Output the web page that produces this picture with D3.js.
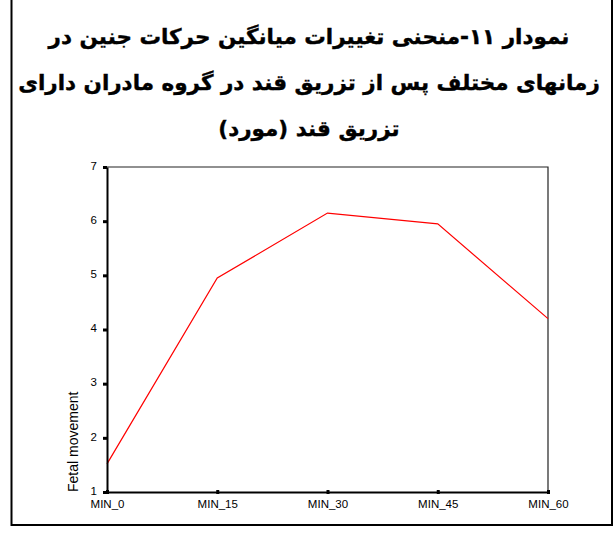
<!DOCTYPE html>
<html>
<head>
<meta charset="utf-8">
<script src="https://cdn.jsdelivr.net/npm/d3@7"></script>
<style>
  body { margin: 0; background: #fff; }
  svg { display: block; }
</style>
</head>
<body>
<svg id="chart" width="614" height="533"></svg>
<script>
var titleLines = [
  'نمودار ١١-منحنی تغییرات میانگین حرکات جنین در',
  'زمانهای مختلف پس از تزریق قند در گروه مادران دارای',
  'تزریق قند (مورد)'
];
var categories = ['MIN_0', 'MIN_15', 'MIN_30', 'MIN_45', 'MIN_60'];
var values = [1.52, 4.95, 6.15, 5.95, 4.2];
var yTicks = [1, 2, 3, 4, 5, 6, 7];
var yLabel = 'Fetal movement';

var svg = d3.select('#chart');

// outer frame (top edge is cut off in the original)
svg.append('path')
  .attr('d', 'M11.5,-2 V525 H612 V-2')
  .attr('fill', 'none')
  .attr('stroke', '#000')
  .attr('stroke-width', 2);

svg.selectAll('.title')
  .data(titleLines)
  .enter().append('text')
  .attr('class', 'title')
  .attr('x', 309)
  .attr('y', function(d, i) { return 44 + i * 46; })
  .attr('text-anchor', 'middle')
  .attr('direction', 'rtl')
  .style('font-family', 'DejaVu Sans, sans-serif')
  .style('font-weight', 'bold')
  .style('font-size', '21.5px')
  .attr('stroke', '#000')
  .attr('stroke-width', 0.4)
  .text(function(d) { return d; });

var margin = { left: 107, top: 167, right: 548, bottom: 492 };

var x = d3.scalePoint().domain(categories).range([margin.left, margin.right]);
var y = d3.scaleLinear().domain([1, 7]).range([margin.bottom, margin.top]);

// top and right borders of plot
svg.append('path')
  .attr('d', 'M' + margin.left + ',' + margin.top + ' H' + margin.right + ' V' + margin.bottom)
  .attr('fill', 'none')
  .attr('stroke', '#222')
  .attr('stroke-width', 1.2);

var line = d3.line()
  .x(function(d, i) { return x(categories[i]); })
  .y(function(d) { return y(d); });

svg.append('path')
  .datum(values)
  .attr('fill', 'none')
  .attr('stroke', '#ff0000')
  .attr('stroke-width', 1.2)
  .attr('d', line);

var xAxis = svg.append('g')
  .attr('transform', 'translate(0,' + margin.bottom + ')')
  .call(d3.axisBottom(x).tickSize(0).tickPadding(8));

var yAxis = svg.append('g')
  .attr('transform', 'translate(' + margin.left + ',0)')
  .call(d3.axisLeft(y).tickValues(yTicks).tickFormat(d3.format('d')).tickSize(0).tickPadding(10));

[xAxis, yAxis].forEach(function(g) {
  g.select('.domain').attr('stroke', '#000').attr('stroke-width', 2);
  g.selectAll('text')
    .style('font-family', 'Liberation Sans, Arial, sans-serif')
    .style('font-size', '11.5px')
    .attr('fill', '#000');
});
// "1" sits a little above the bottom axis in the original
yAxis.selectAll('.tick text').attr('dy', '0.2em');

// small square tick marks
xAxis.selectAll('.tick').append('rect')
  .attr('x', -1.5).attr('y', -2).attr('width', 3).attr('height', 4).attr('fill', '#000');
yAxis.selectAll('.tick').append('rect')
  .attr('x', -4).attr('y', -1.5).attr('width', 4).attr('height', 3).attr('fill', '#000');

svg.append('text')
  .attr('transform', 'translate(78,' + margin.bottom + ') rotate(-90)')
  .attr('text-anchor', 'start')
  .style('font-family', 'Liberation Sans, Arial, sans-serif')
  .style('font-size', '14px')
  .text(yLabel);
</script>
</body>
</html>
